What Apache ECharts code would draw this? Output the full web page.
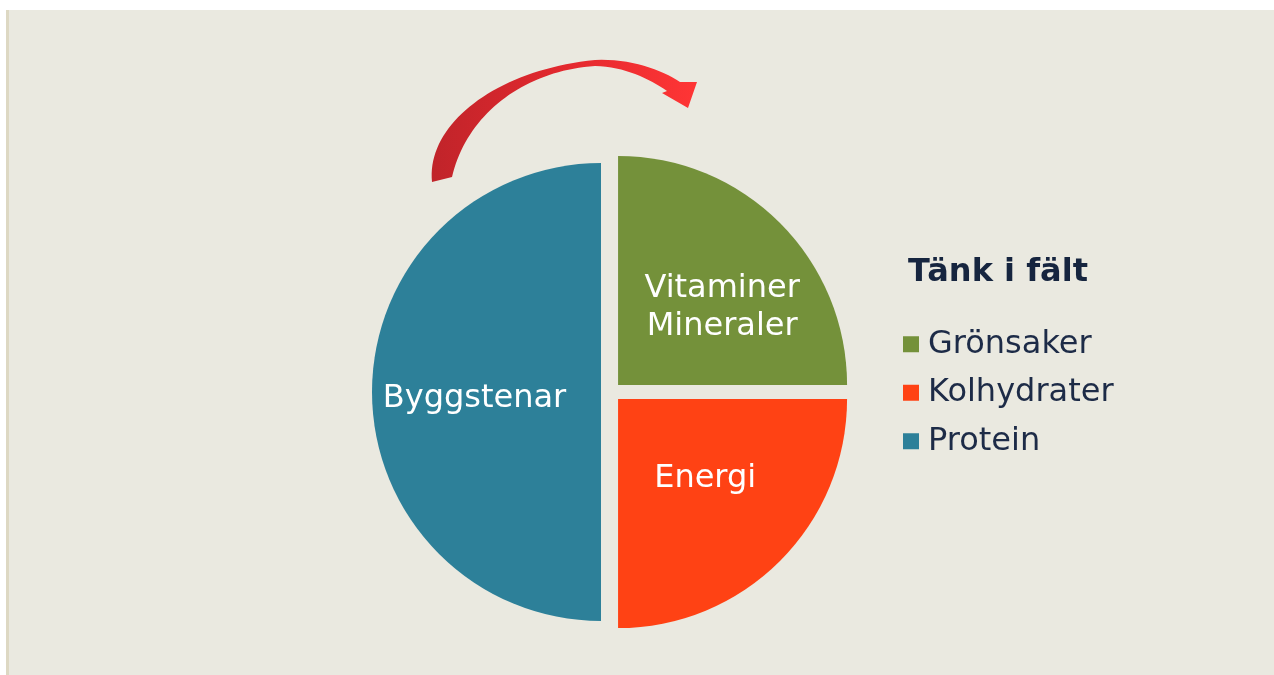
<!DOCTYPE html>
<html>
<head>
<meta charset="utf-8">
<script src="https://cdn.jsdelivr.net/npm/echarts@6/dist/echarts.min.js"></script>
<style>
html,body{margin:0;padding:0;background:#ffffff;}
#chart{width:1274px;height:675px;}
</style>
</head>
<body>
<div id="chart"></div>
<script>
// Data
var categories = ['Grönsaker', 'Kolhydrater', 'Protein'];
var values = [25, 25, 50];
var sliceLabels = ['Vitaminer\nMineraler', 'Energi', 'Byggstenar'];
var colors = ['#74913A', '#FF4214', '#2D8099'];
var titleText = 'Tänk i fält';

var FONT = 'DejaVu Sans, Verdana, sans-serif';
var labelShifts = [[21, 6], [4, -3], [-9, 7]];

// decorative curved arrow outline (cubic segments sampled into a polygon)
function cubic(p0, p1, p2, p3, n) {
  var pts = [];
  for (var i = 0; i <= n; i++) {
    var t = i / n, u = 1 - t;
    pts.push([
      u*u*u*p0[0] + 3*u*u*t*p1[0] + 3*u*t*t*p2[0] + t*t*t*p3[0],
      u*u*u*p0[1] + 3*u*u*t*p1[1] + 3*u*t*t*p2[1] + t*t*t*p3[1]
    ]);
  }
  return pts;
}
var arrowPts = []
  .concat(cubic([432,182],[426,125],[495,70],[595,60], 40))
  .concat(cubic([595,60],[630,58],[662,70],[680,82], 16).slice(1))
  .concat([[697,82],[688,108],[662,93]])
  .concat(cubic([667,91],[648,78],[625,67],[595,66], 16))
  .concat(cubic([595,66],[522,71],[466,116],[452,177], 40).slice(1));

var pieData = categories.map(function (c, i) {
  return {
    name: c,
    value: values[i],
    selected: true,
    itemStyle: { color: colors[i] },
    label: { formatter: sliceLabels[i] }
  };
});

var chart = echarts.init(document.getElementById('chart'), null, { renderer: 'canvas' });
chart.setOption({
  backgroundColor: '#ffffff',
  animation: false,
  graphic: [
    { type: 'rect', z: -10, silent: true, shape: { x: 6, y: 10, width: 1268, height: 665 }, style: { fill: '#EAE9E0' } },
    { type: 'rect', z: -9, silent: true, shape: { x: 6, y: 10, width: 3, height: 665 }, style: { fill: '#DDD8C3' } },
    {
      type: 'polygon', z: 5, silent: true,
      shape: { points: arrowPts },
      style: {
        fill: {
          type: 'linear', x: 0, y: 0, x2: 1, y2: 0,
          colorStops: [{ offset: 0, color: '#C0242A' }, { offset: 0.45, color: '#E0282E' }, { offset: 1, color: '#FF3535' }]
        }
      }
    }
  ],
  title: {
    text: titleText,
    left: 903,
    top: 252,
    textStyle: { fontFamily: FONT, fontSize: 32, fontWeight: 'bold', color: '#16253F' }
  },
  legend: {
    orient: 'vertical',
    left: 898,
    top: 323,
    itemWidth: 16,
    itemHeight: 16,
    itemGap: 16,
    icon: 'rect',
    selectedMode: false,
    data: categories,
    textStyle: { fontFamily: FONT, fontSize: 32, color: '#1D2B47', lineHeight: 32.5, padding: [0, 0, 0, 4] }
  },
  series: [{
    type: 'pie',
    center: [611, 392],
    radius: [0, 229],
    startAngle: 90,
    clockwise: true,
    selectedMode: 'multiple',
    selectedOffset: 10,
    avoidLabelOverlap: false,
    label: {
      show: true,
      position: 'inside',
      color: '#ffffff',
      fontFamily: FONT,
      fontSize: 32,
      lineHeight: 38
    },
    labelLayout: function (params) {
      var s = labelShifts[params.dataIndex];
      return { dx: s[0], dy: s[1] };
    },
    labelLine: { show: false },
    itemStyle: { borderWidth: 0 },
    emphasis: { disabled: true },
    select: { itemStyle: { borderWidth: 0 } },
    data: pieData
  }]
});
</script>
</body>
</html>
